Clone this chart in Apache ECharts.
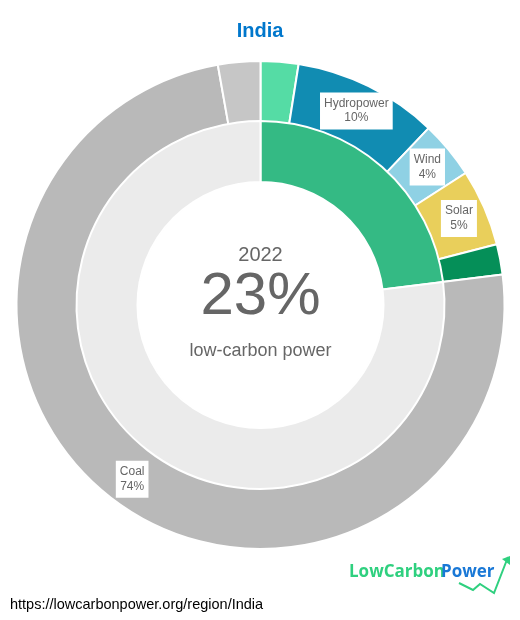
<!DOCTYPE html>
<html>
<head>
<meta charset="utf-8">
<style>
html,body{margin:0;padding:0;background:#fff}
#chart{width:520px;height:620px}
</style>
<script src="https://cdn.jsdelivr.net/npm/echarts@6/dist/echarts.min.js"></script>
</head>
<body>
<div id="chart"></div>
<script>
var outerNames = ['Nuclear', 'Hydropower', 'Wind', 'Solar', 'Bioenergy', 'Coal', 'Gas'];
var outerValues = [2.5, 9.6, 3.8, 5.1, 2.0, 74.2, 2.8];
var outerColors = ['#55dca5', '#118cb2', '#8fd1e4', '#e9cf5b', '#058f58', '#b9b9b9', '#c6c6c6'];
var outerLabelled = ['Hydropower', 'Wind', 'Solar', 'Coal'];
var outerPercents = ['3%', '10%', '4%', '5%', '2%', '74%', '3%'];

var innerNames = ['Low-carbon', 'Fossil'];
var innerValues = [23, 77];
var innerColors = ['#34ba84', '#ebebeb'];

var titleText = 'India';
var yearText = '2022';
var shareText = '23%';
var shareCaption = 'low-carbon power';
var sourceText = 'https://lowcarbonpower.org/region/India';

var arrowLine = [[459, 583], [473, 590], [480, 584], [494, 593], [508, 557]];
var arrowHead = [[502, 559], [510, 556], [510, 565]];

function outerData() {
	return outerNames.map(function (name, i) {
		var item = { name: name, value: outerValues[i], itemStyle: { color: outerColors[i] } };
		item.label = { show: outerLabelled.indexOf(name) >= 0 };
		return item;
	});
}

function innerData() {
	return innerNames.map(function (name, i) {
		return { name: name, value: innerValues[i], itemStyle: { color: innerColors[i] } };
	});
}

var chart = echarts.init(document.getElementById('chart'), null, { renderer: 'canvas' });

chart.setOption({
	animation: false,
	backgroundColor: '#fff',
	title: {
		text: titleText,
		left: 'center',
		top: 16,
		textStyle: { color: '#0077cc', fontSize: 20, fontWeight: 'bold', fontFamily: 'Liberation Sans' }
	},
	series: [
		{
			type: 'pie',
			center: [260.5, 305],
			radius: [183, 244],
			startAngle: 90,
			sort: null,
			clockwise: true,
			silent: true,
			itemStyle: { borderColor: '#fff', borderWidth: 2 },
			label: {
				position: 'inside',
				formatter: function (p) {
					return p.name + '\n' + outerPercents[p.dataIndex];
				},
				color: '#666',
				fontSize: 12,
				lineHeight: 14.5,
				fontFamily: 'Liberation Sans',
				align: 'left',
				backgroundColor: '#fff',
				padding: [4, 4, 4, 4]
			},
			labelLine: { show: false },
			data: outerData()
		},
		{
			type: 'pie',
			center: [260.5, 305],
			radius: [123, 184],
			startAngle: 90,
			sort: null,
			clockwise: true,
			silent: true,
			itemStyle: { borderColor: '#fff', borderWidth: 2 },
			label: { show: false },
			labelLine: { show: false },
			data: innerData()
		}
	],
	graphic: [
		{
			type: 'text', x: 260.5, y: 255,
			style: { text: yearText, fill: '#666', font: '20px "Liberation Sans"', align: 'center', verticalAlign: 'middle' }
		},
		{
			type: 'text', x: 260.5, y: 297,
			style: { text: shareText, fill: '#666', font: '60px "Liberation Sans"', align: 'center', verticalAlign: 'middle' }
		},
		{
			type: 'text', x: 260.5, y: 351,
			style: { text: shareCaption, fill: '#666', font: '18px "Liberation Sans"', align: 'center', verticalAlign: 'middle' }
		},
		{
			type: 'text', x: 10, y: 605,
			style: { text: sourceText, fill: '#000', font: '14.5px "Liberation Sans"', align: 'left', verticalAlign: 'middle' }
		},
		{
			type: 'text', x: 349, y: 572,
			style: { text: 'LowCarbon', fill: '#2fd07f', font: 'bold 17px "Open Sans"', align: 'left', verticalAlign: 'middle' }
		},
		{
			type: 'text', x: 441, y: 572,
			style: { text: 'Power', fill: '#1a78d6', font: 'bold 17px "Open Sans"', align: 'left', verticalAlign: 'middle' }
		},
		{
			type: 'polyline',
			shape: { points: arrowLine },
			style: { stroke: '#2fd07f', lineWidth: 2, fill: null }
		},
		{
			type: 'polygon',
			shape: { points: arrowHead },
			style: { fill: '#2fd07f' }
		}
	]
});
</script>
</body>
</html>
